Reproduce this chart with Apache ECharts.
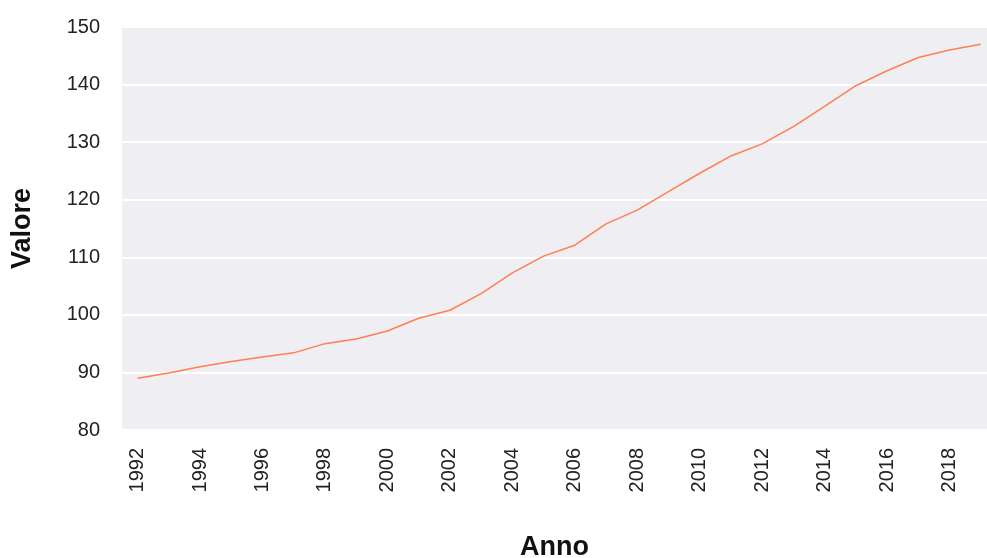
<!DOCTYPE html>
<html>
<head>
<meta charset="utf-8">
<script src="https://cdn.jsdelivr.net/npm/echarts@6/dist/echarts.min.js"></script>
<style>html,body{margin:0;padding:0;background:#fff}#c{width:987px;height:558px}</style>
</head>
<body>
<div id="c"></div>
<script>
const years = [1992,1993,1994,1995,1996,1997,1998,1999,2000,2001,2002,2003,2004,2005,2006,2007,2008,2009,2010,2011,2012,2013,2014,2015,2016,2017,2018,2019];
const values = [89.0,89.9,91.0,91.9,92.7,93.4,95.0,95.8,97.2,99.4,100.8,103.7,107.3,110.2,112.1,115.8,118.2,121.4,124.6,127.6,129.7,132.7,136.2,139.8,142.4,144.7,146.0,147.0];
const xTicks = [1992,1994,1996,1998,2000,2002,2004,2006,2008,2010,2012,2014,2016,2018];
const yTicks = [80,90,100,110,120,130,140,150];

const chart = echarts.init(document.getElementById('c'), null, {renderer:'canvas'});
const font = 'Liberation Sans, Arial, sans-serif';
chart.setOption({
  animation:false,
  grid:{left:122,right:0,top:27,bottom:128,show:true,backgroundColor:'#efeef3',borderWidth:0,containLabel:false,outerBoundsMode:'none'},
  xAxis:{
    type:'value', min:1991.5, max:2019.2,
    name:'Anno', nameLocation:'middle', nameGap:104,
    nameTextStyle:{fontFamily:font,fontSize:27,fontWeight:'bold',color:'#111'},
    axisLine:{show:false}, axisTick:{show:false}, splitLine:{show:false},
    axisLabel:{customValues:xTicks, rotate:90, margin:18, fontFamily:font, fontSize:20, color:'#222', formatter:v=>String(v)}
  },
  yAxis:{
    type:'value', min:80, max:150, interval:10,
    name:'Valore', nameLocation:'middle', nameGap:86,
    nameTextStyle:{fontFamily:font,fontSize:27,fontWeight:'bold',color:'#111'},
    axisLine:{show:false}, axisTick:{show:false},
    splitLine:{lineStyle:{color:'#ffffff',width:2}},
    axisLabel:{margin:22, fontFamily:font, fontSize:20, color:'#222'}
  },
  series:[{
    type:'line', data:years.map((y,i)=>[y,values[i]]),
    showSymbol:false, lineStyle:{color:'#ff7f50',width:1.5}, itemStyle:{color:'#ff7f50'}
  }]
});
</script>
</body>
</html>
